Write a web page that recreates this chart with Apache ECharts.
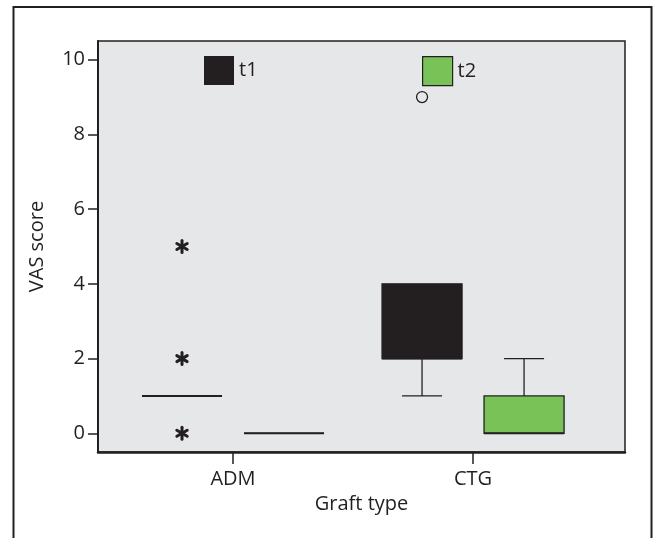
<!DOCTYPE html>
<html>
<head>
<meta charset="utf-8">
<script src="https://cdn.jsdelivr.net/npm/echarts@6/dist/echarts.min.js"></script>
<style>html,body{margin:0;padding:0;background:#fff}#c{width:658px;height:538px}</style>
</head>
<body>
<div id="c"></div>
<script>
// ---- data ----
const categories = ['ADM', 'CTG'];
// [min, q1, median, q3, max] per category
const t1Stats = [[1, 1, 1, 1, 1], [1, 2, 2, 4, 4]];
const t2Stats = [[0, 0, 0, 0, 0], [0, 0, 0, 1, 2]];
// [categoryIndex, value]
const t1Extremes = [[0, 0], [0, 2], [0, 5]];
const t1Outliers = [[1, 9]];
const yTicks = [0, 2, 4, 6, 8, 10];
const xTicks = [1, 2];

const DARK = '#231f20';
const GREEN = '#78c257';
const BG = '#e6e7e8';
const FONT = 'Open Sans';
const FS = 20;

const GROUP_OFFSET = 0.2125; // fraction of category spacing
const BOX_HALF = 0.1667;

function boxSeries(name, stats, fill, dir) {
  return {
    type: 'custom',
    name: name,
    data: stats.map((s, i) => [i + 1].concat(s)),
    encode: { x: 0, y: [1, 2, 3, 4, 5] },
    renderItem: function (params, api) {
      const xv = api.value(0);
      const unit = api.size([1, 0])[0];
      const cx = api.coord([xv, 0])[0] + dir * GROUP_OFFSET * unit;
      const hw = BOX_HALF * unit;
      const yMin = api.coord([xv, api.value(1)])[1];
      const yQ1 = api.coord([xv, api.value(2)])[1];
      const yMed = api.coord([xv, api.value(3)])[1];
      const yQ3 = api.coord([xv, api.value(4)])[1];
      const yMax = api.coord([xv, api.value(5)])[1];
      const children = [];
      const lineStyle = { stroke: DARK, lineWidth: 1.3 };
      if (yMax < yQ3 - 0.5) {
        children.push({ type: 'line', shape: { x1: cx, y1: yQ3, x2: cx, y2: yMax }, style: lineStyle });
        children.push({ type: 'line', shape: { x1: cx - hw / 2, y1: yMax, x2: cx + hw / 2, y2: yMax }, style: lineStyle });
      }
      if (yMin > yQ1 + 0.5) {
        children.push({ type: 'line', shape: { x1: cx, y1: yQ1, x2: cx, y2: yMin }, style: lineStyle });
        children.push({ type: 'line', shape: { x1: cx - hw / 2, y1: yMin, x2: cx + hw / 2, y2: yMin }, style: lineStyle });
      }
      children.push({
        type: 'rect',
        shape: { x: cx - hw, y: yQ3, width: 2 * hw, height: yQ1 - yQ3 },
        style: { fill: fill, stroke: DARK, lineWidth: 1.3 }
      });
      children.push({ type: 'line', shape: { x1: cx - hw, y1: yMed, x2: cx + hw, y2: yMed }, style: { stroke: DARK, lineWidth: 2 } });
      return { type: 'group', children: children };
    }
  };
}

function outlierSeries(name, points, kind, dir) {
  return {
    type: 'custom',
    name: name,
    data: points.map(p => [p[0] + 1, p[1]]),
    encode: { x: 0, y: 1 },
    renderItem: function (params, api) {
      const xv = api.value(0);
      const unit = api.size([1, 0])[0];
      const pt = api.coord([xv, api.value(1)]);
      const cx = pt[0] + dir * GROUP_OFFSET * unit;
      const cy = pt[1];
      if (kind === 'circle') {
        return { type: 'circle', shape: { cx: cx, cy: cy, r: 5.5 }, style: { fill: 'none', stroke: DARK, lineWidth: 1.3 } };
      }
      const r = 6;
      const children = [];
      for (let k = 0; k < 3; k++) {
        const a = Math.PI / 2 + k * Math.PI / 3;
        children.push({
          type: 'line',
          shape: { x1: cx - r * Math.cos(a), y1: cy - r * Math.sin(a), x2: cx + r * Math.cos(a), y2: cy + r * Math.sin(a) },
          style: { stroke: DARK, lineWidth: 3, lineCap: 'round' }
        });
      }
      return { type: 'group', children: children };
    }
  };
}

const chart = echarts.init(document.getElementById('c'), null, { renderer: 'canvas' });
chart.setOption({
  animation: false,
  backgroundColor: '#fff',
  graphic: [{
    type: 'rect', silent: true, z: -10,
    shape: { x: 13.5, y: 7, width: 638, height: 600 },
    style: { fill: 'none', stroke: DARK, lineWidth: 2 }
  }],
  grid: {
    left: 98, top: 41, right: 33, bottom: 86,
    show: true, backgroundColor: BG, borderColor: DARK, borderWidth: 1.5
  },
  legend: [
    {
      left: 199, top: 51, itemWidth: 30, itemHeight: 29, itemGap: 0,
      textStyle: { fontFamily: FONT, fontSize: FS, color: DARK },
      data: [{ name: 't1', icon: 'rect', itemStyle: { color: DARK, borderWidth: 0 } }]
    },
    {
      left: 417, top: 51, itemWidth: 30, itemHeight: 29, itemGap: 0,
      textStyle: { fontFamily: FONT, fontSize: FS, color: DARK },
      data: [{ name: 't2', icon: 'rect', itemStyle: { color: GREEN, borderColor: DARK, borderWidth: 1.2 } }]
    }
  ],
  xAxis: {
    type: 'value', min: 0.4375, max: 2.633,
    name: 'Graft type', nameLocation: 'middle', nameGap: 42,
    nameTextStyle: { fontFamily: FONT, fontSize: FS, color: DARK },
    axisLine: { show: true, onZero: false, lineStyle: { color: DARK, width: 2.5 } },
    axisTick: { show: true, customValues: xTicks, length: 12, lineStyle: { color: DARK, width: 1.5 } },
    axisLabel: { customValues: xTicks, margin: 17, fontFamily: FONT, fontSize: FS, color: DARK,
      formatter: v => categories[Math.round(v) - 1] },
    splitLine: { show: false }
  },
  yAxis: {
    type: 'value', min: -0.5, max: 10.5,
    name: 'VAS score', nameLocation: 'middle', nameGap: 51,
    nameTextStyle: { fontFamily: FONT, fontSize: FS, color: DARK },
    axisLine: { show: true, onZero: false, lineStyle: { color: DARK, width: 2 } },
    axisTick: { show: true, customValues: yTicks, length: 10, lineStyle: { color: DARK, width: 1.5 } },
    axisLabel: { customValues: yTicks, margin: 13, fontFamily: FONT, fontSize: FS, color: DARK },
    splitLine: { show: false }
  },
  series: [
    boxSeries('t1', t1Stats, DARK, -1),
    boxSeries('t2', t2Stats, GREEN, 1),
    outlierSeries('t1', t1Extremes, 'star', -1),
    outlierSeries('t1', t1Outliers, 'circle', -1)
  ]
});
</script>
</body>
</html>
